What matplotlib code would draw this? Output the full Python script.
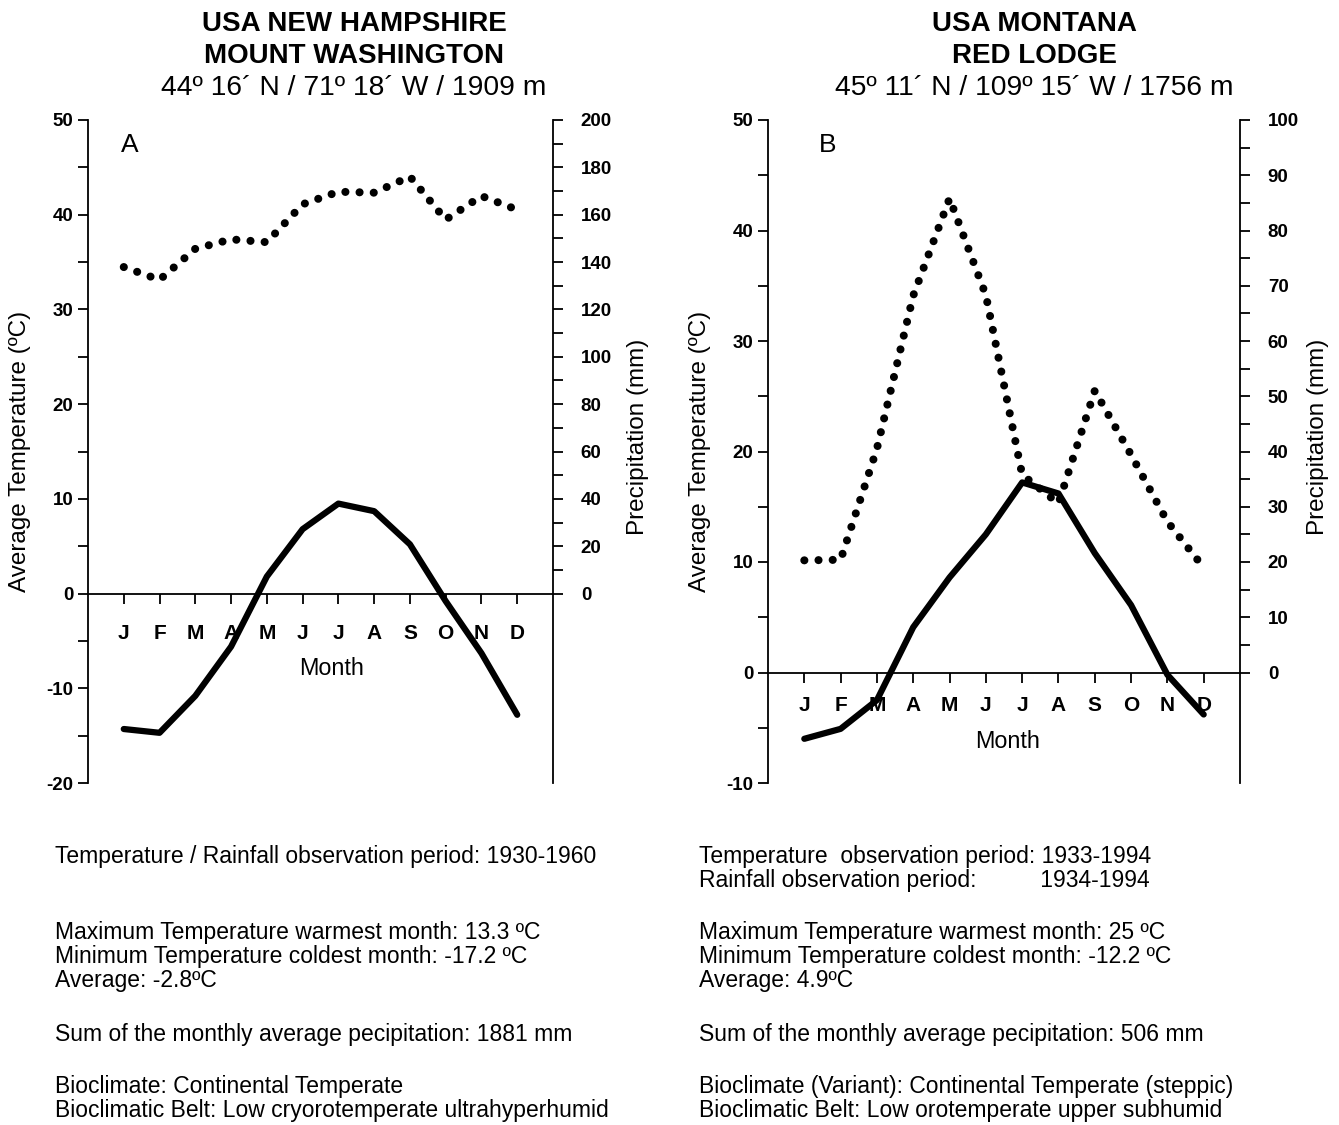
import numpy as np
import matplotlib.pyplot as plt
from matplotlib.ticker import MultipleLocator, FixedLocator

plt.rcParams['font.family'] = ['Liberation Sans', 'DejaVu Sans']
plt.rcParams['axes.unicode_minus'] = False

months = ["J", "F", "M", "A", "M", "J", "J", "A", "S", "O", "N", "D"]
month_pos = np.arange(1, 13)

# A - Mount Washington
temp_a = [-14.3, -14.7, -10.8, -5.6, 1.8, 6.8, 9.5, 8.7, 5.2, -0.8, -6.3, -12.8]
prec_a = [137.9, 132.5, 145.6, 149.6, 148.4, 164.4, 169.7, 169.3, 176.1, 157.9, 167.9, 162.1]

# B - Red Lodge
temp_b = [-6.0, -5.1, -2.5, 4.1, 8.6, 12.5, 17.2, 16.2, 10.8, 6.1, -0.2, -3.8]
prec_b = [20.3, 20.4, 40.5, 68.2, 85.8, 68.3, 35.8, 30.6, 51.0, 39.4, 27.3, 19.0]

W, H = 1339, 1125
fig = plt.figure(figsize=(W / 100, H / 100), dpi=100)


def px(x, y):
    return x / W, 1 - y / H


def panel(left, width, temps, precs, tlim, plim, pstep, pminor, letter,
          month_pad, month_xy, label_x, plabel_x):
    ax = fig.add_axes([left / W, 1 - 783 / H, width / W, 663 / H])
    ax2 = ax.twinx()

    ax.plot(month_pos, temps, color='black', lw=4.5, solid_capstyle='round', zorder=3)
    ax2.plot(month_pos, precs, color='black', lw=5.8, linestyle=(0, (0.01, 1.75)),
             dash_capstyle='round')

    ax.set_xlim(0, 13)
    ax.set_ylim(*tlim)
    ax2.set_ylim(*plim)

    for s in ['top', 'right']:
        ax.spines[s].set_visible(False)
    for s in ['top', 'bottom', 'left']:
        ax2.spines[s].set_visible(False)
    ax.spines['bottom'].set_position(('data', 0))
    for a in (ax, ax2):
        for s in a.spines.values():
            s.set_linewidth(1.3)

    ax.set_xticks(month_pos)
    ax.set_xticklabels(months, fontweight='bold', fontsize=15)
    ax.tick_params(axis='x', direction='out', length=7, width=1.3, pad=month_pad)

    ax.yaxis.set_major_locator(MultipleLocator(10))
    ax.yaxis.set_minor_locator(MultipleLocator(5))
    ax.tick_params(axis='y', which='both', direction='out', length=7, width=1.3,
                   labelsize=13.5)
    for t in ax.get_yticklabels():
        t.set_fontweight('bold')

    ax2.yaxis.set_major_locator(FixedLocator(np.arange(0, plim[1] + 1, pstep)))
    ax2.yaxis.set_minor_locator(FixedLocator(np.arange(pminor, plim[1], pstep)))
    ax2.tick_params(axis='y', which='both', direction='out', length=7, width=1.3,
                    labelsize=13.5, pad=13)
    for t in ax2.get_yticklabels():
        t.set_fontweight('bold')

    ax.set_ylabel("Average Temperature (ºC)", fontsize=17.5, va='center')
    ax.yaxis.set_label_coords(label_x, 0.5)
    ax2.set_ylabel("Precipitation (mm)", fontsize=17.5, rotation=90, va='center')
    ax2.yaxis.set_label_coords(plabel_x, 0.522)

    ax.set_xlabel("Month", fontsize=16.8, va='center')
    ax.xaxis.set_label_coords(*month_xy)

    ax.text(0.09 if letter == "A" else 0.127, 0.962, letter, transform=ax.transAxes,
            fontsize=19, ha='center', va='center')
    return ax


panel(88, 465, temp_a, prec_a, (-20, 50), (-80, 200), 20, 10, "A",
      15, (0.523, 0.173), -0.146, 1.183)
panel(768, 472, temp_b, prec_b, (-10, 50), (-20, 100), 10, 5, "B",
      10, (0.508, 0.063), -0.144, 1.165)

# titles
for cx, l1, l2, l3 in [
    (354, "USA NEW HAMPSHIRE", "MOUNT WASHINGTON", "44º 16´ N / 71º 18´ W / 1909 m"),
    (1034, "USA MONTANA", "RED LODGE", "45º 11´ N / 109º 15´ W / 1756 m"),
]:
    fig.text(*px(cx, 24), l1, fontsize=20, fontweight='bold', ha='center', va='center')
    fig.text(*px(cx, 56), l2, fontsize=20, fontweight='bold', ha='center', va='center')
    fig.text(*px(cx, 88), l3, fontsize=20.3, ha='center', va='center')

left_notes = [
    (857, "Temperature / Rainfall observation period: 1930-1960"),
    (932, "Maximum Temperature warmest month: 13.3 ºC"),
    (956, "Minimum Temperature coldest month: -17.2 ºC"),
    (980, "Average: -2.8ºC"),
    (1035, "Sum of the monthly average pecipitation: 1881 mm"),
    (1086, "Bioclimate: Continental Temperate"),
    (1110, "Bioclimatic Belt: Low cryorotemperate ultrahyperhumid"),
]
right_notes = [
    (857, "Temperature  observation period: 1933-1994"),
    (881, "Rainfall observation period:          1934-1994"),
    (932, "Maximum Temperature warmest month: 25 ºC"),
    (956, "Minimum Temperature coldest month: -12.2 ºC"),
    (980, "Average: 4.9ºC"),
    (1035, "Sum of the monthly average pecipitation: 506 mm"),
    (1086, "Bioclimate (Variant): Continental Temperate (steppic)"),
    (1110, "Bioclimatic Belt: Low orotemperate upper subhumid"),
]
for x0, notes in [(55, left_notes), (699, right_notes)]:
    for y, s in notes:
        fig.text(*px(x0, y), s, fontsize=16.5, ha='left', va='center')

fig.savefig("out.png", dpi=100)
